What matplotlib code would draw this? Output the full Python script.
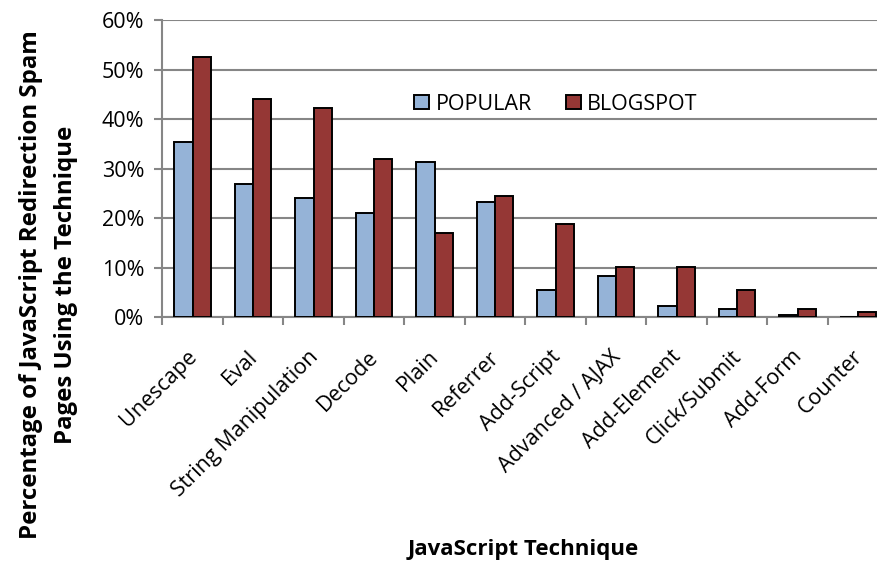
import matplotlib
matplotlib.use("Agg")
import matplotlib.pyplot as plt
import numpy as np
from matplotlib.ticker import FuncFormatter
from matplotlib.transforms import ScaledTranslation

categories = ["Unescape", "Eval", "String Manipulation", "Decode", "Plain", "Referrer",
              "Add-Script", "Advanced / AJAX", "Add-Element", "Click/Submit", "Add-Form", "Counter"]
popular = [35.4, 26.9, 24.0, 21.1, 31.3, 23.3, 5.6, 8.4, 2.2, 1.6, 0.5, 0.0]
blogspot = [52.6, 44.0, 42.3, 32.0, 17.1, 24.5, 18.8, 10.2, 10.2, 5.6, 1.6, 1.0]
yticks = [0, 10, 20, 30, 40, 50, 60]

plt.rcParams['font.family'] = ['Open Sans', 'DejaVu Sans']

W, H = 878, 569
fig = plt.figure(figsize=(W/100, H/100), dpi=100)
x0, x1 = 162.3, 888.3
y0, y1 = 317.3, 20.3
ax = fig.add_axes([x0/W, 1 - y0/H, (x1-x0)/W, (y0-y1)/H])

x = np.arange(len(categories))
bw = 0.30
grey = "#868686"
ax.bar(x - bw/2, popular, bw, color="#95B3D7", edgecolor="black", linewidth=1.4,
       label="POPULAR", zorder=3)
ax.bar(x + bw/2, blogspot, bw, color="#953735", edgecolor="black", linewidth=1.4,
       label="BLOGSPOT", zorder=3)

ax.set_xlim(-0.5, len(categories) - 0.5)
ax.set_ylim(0, 60)
ax.set_yticks(yticks)
ax.yaxis.set_major_formatter(FuncFormatter(lambda v, p: f"{v:.0f}%"))
ax.yaxis.grid(True, color=grey, linewidth=1.5, zorder=0)
ax.set_axisbelow(True)

for s in ["top", "right"]:
    ax.spines[s].set_visible(False)
ax.spines["left"].set_color(grey)
ax.spines["left"].set_linewidth(1.5)
ax.spines["bottom"].set_color(grey)
ax.spines["bottom"].set_linewidth(1.5)

ax.tick_params(axis="y", length=6, width=1.5, color=grey, labelsize=15.5, pad=7)
ax.set_xticks(np.arange(len(categories) + 1) - 0.5)
ax.set_xticklabels([])
ax.tick_params(axis="x", length=6, width=1.5, color=grey)
ax.set_xticks(x, minor=True)
ax.set_xticklabels(categories, minor=True, rotation=45, ha="right", va="top",
                   rotation_mode="anchor", fontsize=15.5)
ax.tick_params(axis="x", which="minor", length=0, pad=21)
shift = ScaledTranslation(-6/100, 0, fig.dpi_scale_trans)
for lab in ax.get_xticklabels(minor=True):
    lab.set_transform(lab.get_transform() + shift)

ax.set_xlabel("JavaScript Technique", fontsize=16, fontweight="bold", va="top")
ax.xaxis.set_label_coords((523 - x0)/(x1 - x0), -(539 - y0)/(y0 - y1))
ax.set_ylabel("Percentage of JavaScript Redirection Spam\nPages Using the Technique",
              fontsize=17.3, fontweight="bold", linespacing=1.6, va="bottom")
ax.yaxis.set_label_coords(-(x0 - 78)/(x1 - x0), (y0 - 285)/(y0 - y1))

leg = ax.legend(loc="center", bbox_to_anchor=((556 - x0)/(x1 - x0), (y0 - 104)/(y0 - y1)),
                ncol=2, frameon=False, fontsize=15.5, handlelength=0.68, handleheight=0.68,
                handletextpad=0.3, columnspacing=1.6)
for p in leg.get_patches():
    p.set_linewidth(1.4)

fig.savefig("out.png", dpi=100)
